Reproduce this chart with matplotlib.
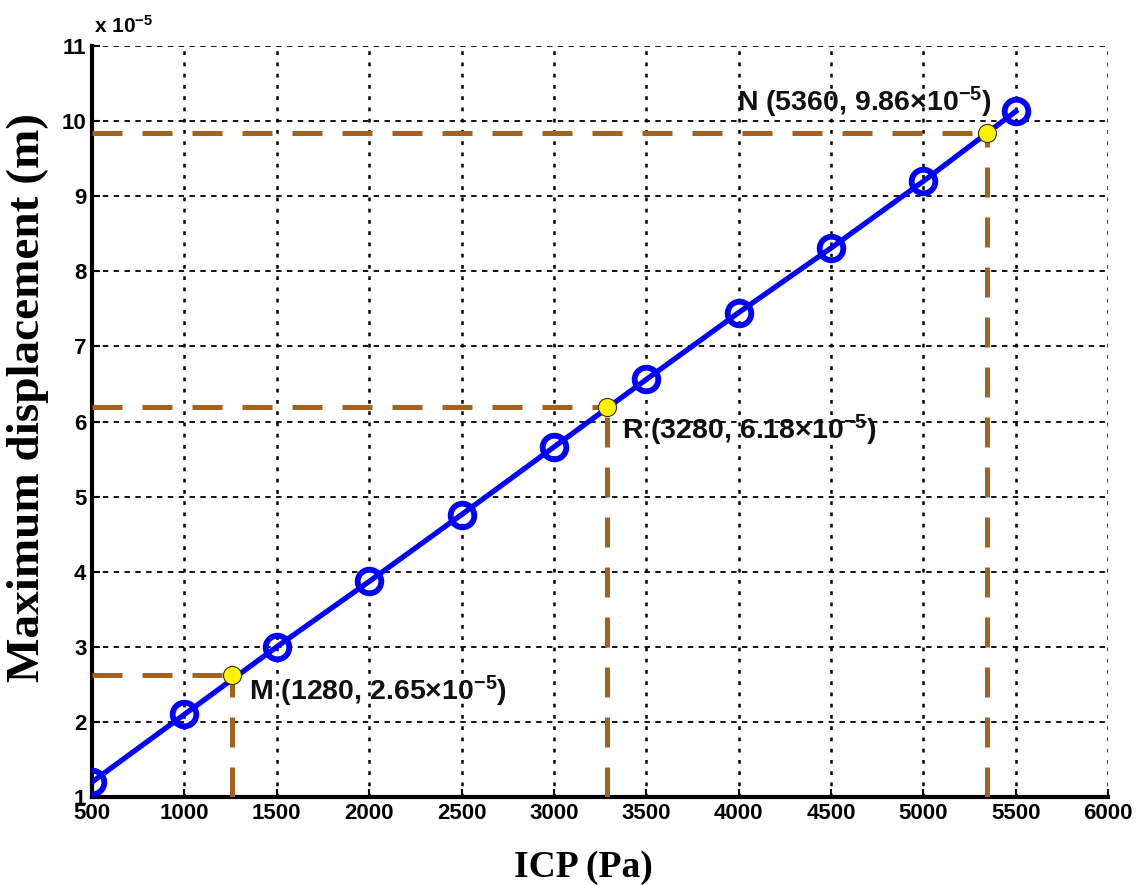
import matplotlib
matplotlib.use('Agg')
import matplotlib.pyplot as plt
import numpy as np

plt.rcParams['font.family'] = ['Liberation Sans', 'DejaVu Sans']
plt.rcParams['mathtext.fontset'] = 'custom'
plt.rcParams['mathtext.rm'] = 'Liberation Sans:bold'
plt.rcParams['mathtext.it'] = 'Liberation Sans:bold'
plt.rcParams['mathtext.bf'] = 'Liberation Sans:bold'

# ICP (Pa) vs maximum displacement (x 1e-5 m)
icp = [500, 1000, 1500, 2000, 2500, 3000, 3500, 4000, 4500, 5000, 5500]
disp = [1.2, 2.1, 3.0, 3.87, 4.76, 5.66, 6.56, 7.45, 8.31, 9.2, 10.13]

# marked points M, R, N
mark_x = [1258, 3285, 5342]
mark_y = [2.63, 6.19, 9.84]
mark_labels = [r'M (1280, 2.65×10$^{-5}$)',
               r'R (3280, 6.18×10$^{-5}$)',
               r'N (5360, 9.86×10$^{-5}$)']

xticks = np.arange(500, 6001, 500)
yticks = np.arange(1, 12, 1)

fig = plt.figure(figsize=(11.43, 8.85), dpi=100)
ax = fig.add_axes([0.0805, 0.0994, 0.889, 0.8486])

brown = '#A3621F'
for mx, my in zip(mark_x, mark_y):
    ax.plot([500, mx], [my, my], color=brown, lw=3.6, ls=(0, (6, 4)), zorder=3)
    ax.plot([mx, mx], [1, my], color=brown, lw=3.6, ls=(0, (6, 4)), zorder=3)

ax.plot(icp, disp, color='#0000FF', lw=3.8, marker='o', markersize=17,
        markerfacecolor='none', markeredgecolor='#0000FF', markeredgewidth=4.2, zorder=4)
ax.plot(mark_x, mark_y, 'o', color='#FFF200', markersize=13,
        markeredgecolor='#333300', markeredgewidth=0.8, zorder=5)

offsets = [(12, -12), (11, -17), (4, 22)]
aligns = ['left', 'left', 'right']
for mx, my, lab, off, ha in zip(mark_x, mark_y, mark_labels, offsets, aligns):
    ax.annotate(lab, (mx, my), xytext=off, textcoords='offset points',
                ha=ha, va='center', fontsize=20.5, fontweight='bold', color='#111111', zorder=6)

ax.set_xlim(500, 6000)
ax.set_ylim(1, 11)
ax.set_xticks(xticks)
ax.set_yticks(yticks)
ax.tick_params(direction='in', length=6, width=1.5, labelsize=16, pad=4)
for lab in ax.get_xticklabels() + ax.get_yticklabels():
    lab.set_fontweight('bold')

ax.xaxis.grid(True, color='black', ls=(0, (1.5, 3)), lw=1.8)
ax.yaxis.grid(True, color='black', ls=(0, (3, 3)), lw=1.3)
ax.spines['top'].set_visible(False)
ax.spines['right'].set_visible(False)
ax.spines['left'].set_linewidth(3)
ax.spines['bottom'].set_linewidth(3)

ax.text(0.002, 1.012, r'x 10$^{-5}$', transform=ax.transAxes, fontsize=15,
        fontweight='bold', ha='left', va='bottom')

ax.set_xlabel('ICP (Pa)', fontsize=27, fontweight='bold', family='Liberation Serif')
ax.set_ylabel('Maximum displacement (m)', fontsize=34, fontweight='bold',
              family='Liberation Serif')
ax.xaxis.set_label_coords(0.484, -0.071)
ax.yaxis.set_label_coords(-0.042, 0.532)

fig.savefig('out.png', dpi=100)
